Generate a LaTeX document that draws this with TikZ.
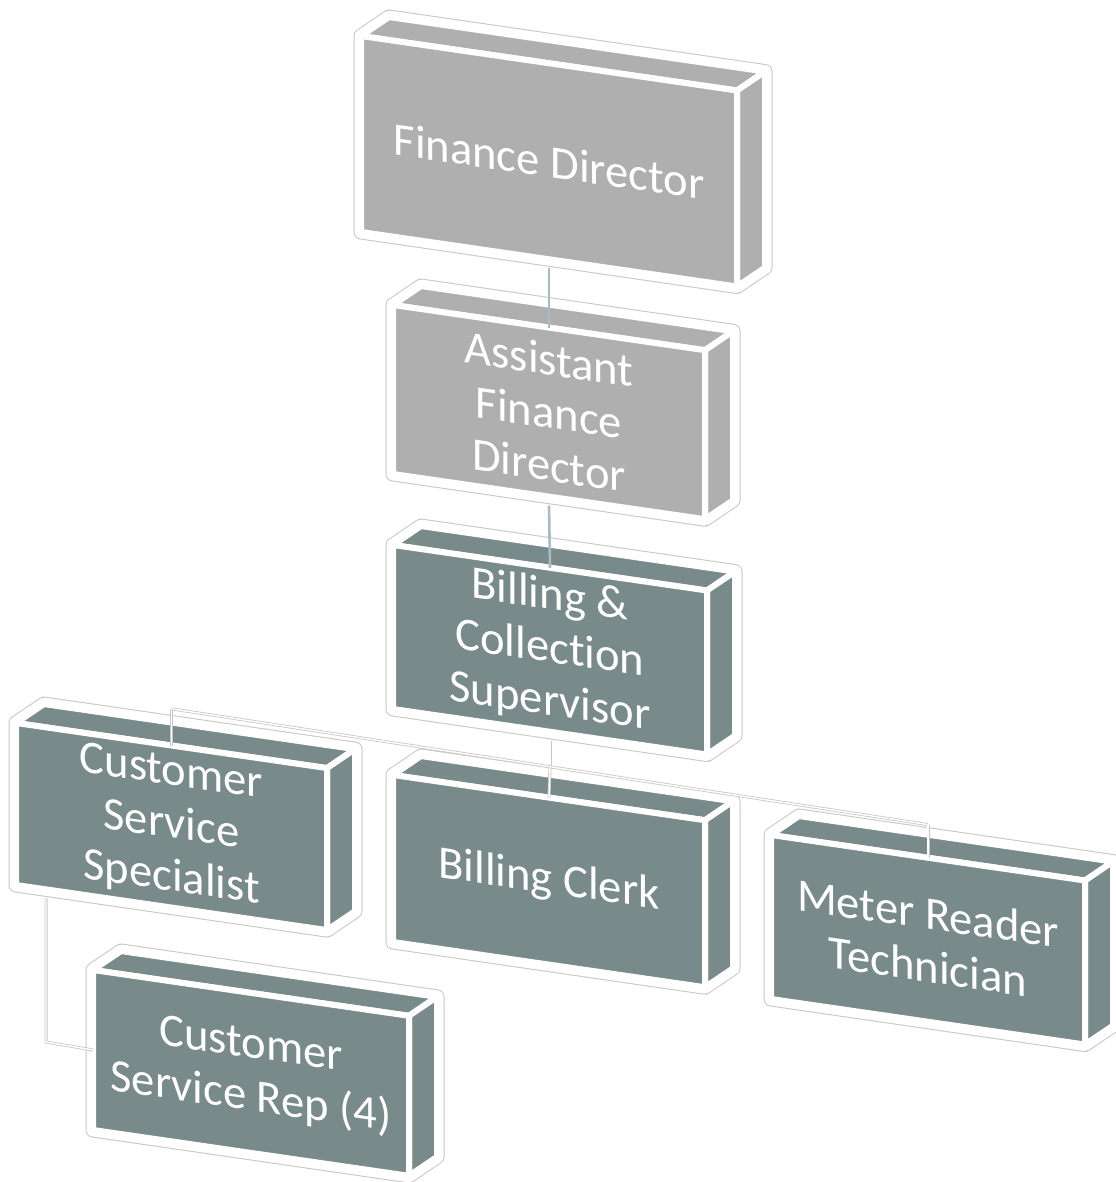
\documentclass[tikz,border=0pt]{standalone}
\usepackage{fontspec}
\setmainfont{Carlito}[Ligatures=NoCommon]
\usepackage{tikz}
\usetikzlibrary{positioning,calc}
\definecolor{boxgray}{HTML}{AFAFAF}
\definecolor{boxslate}{HTML}{798A8A}
\definecolor{linkblue}{HTML}{A3BEC6}
\tikzset{
  org/.style={x=0.5pt,y=0.5pt},
  hull edge/.style={draw=gray!45,line width=7.5pt,line join=round},
  hull band/.style={draw=white,line width=6.5pt,line join=round},
  face/.style={draw=white,line width=3pt,line join=round},
  boxtext/.style={text=white,align=center,inner sep=0pt,
    font=\fontsize{23.3}{26.5}\selectfont},
  link/.style={draw=linkblue,line width=1.3pt},
  sublink/.style={draw=gray!45,line width=0.4pt,double=white,double distance=0.7pt}
}
% name, x, y (front top left, picture px), width, height, colour, text
\newcommand{\orgbox}[7]{%
  \begin{scope}[shift={(#2,1182-#3)},yslant=-0.145]
    \draw[hull edge] (0,0) -- (28,23) -- (#4+28,23) -- (#4+28,23-#5) -- (#4,-#5) -- (0,-#5) -- cycle;
    \draw[hull band] (0,0) -- (28,23) -- (#4+28,23) -- (#4+28,23-#5) -- (#4,-#5) -- (0,-#5) -- cycle;
    \filldraw[face,fill=#6] (0,0) -- (28,23) -- (#4+28,23) -- (#4,0) -- cycle;
    \filldraw[face,fill=#6] (#4,0) -- (#4+28,23) -- (#4+28,23-#5) -- (#4,-#5) -- cycle;
    \filldraw[face,fill=#6] (0,0) rectangle (#4,-#5);
    \node[boxtext,transform shape] (#1) at (#4/2,-#5/2) {#7};
    \coordinate (#1-top) at (#4/2,0);
    \coordinate (#1-bot) at (#4/2,-#5-9);
    \coordinate (#1-west) at (0,-#5/2);
    \coordinate (#1-left) at (30,-#5-9);
  \end{scope}}

\begin{document}
\begin{tikzpicture}[org]
  \useasboundingbox (0,0) rectangle (1115,1182);
  \orgbox{fd}{361}{36}{376}{196}{boxgray}{Finance Director}
  \orgbox{afd}{393}{305}{312}{169}{boxgray}{Assistant\\Finance\\Director}
  \orgbox{bcs}{393}{545}{314}{164}{boxslate}{Billing \&\\Collection\\Supervisor}
  \orgbox{css}{16}{723}{311}{162}{boxslate}{Customer\\Service\\Specialist}
  \orgbox{bc}{393}{775}{312}{167}{boxslate}{Billing Clerk}
  \orgbox{mrt}{771}{835}{314}{164}{boxslate}{Meter Reader\\Technician}
  \orgbox{csr}{93}{970}{316}{160}{boxslate}{Customer\\Service Rep (4)}
  % connectors
  \draw[link] (fd-bot) -- (afd-top);
  \draw[link] (afd-bot) -- (bcs-top);
  \coordinate (bus) at ($(bcs-bot)+(0,-26)$);
  \path let \p1=(bus), \p2=(css-top) in coordinate (bus-l) at (\x2,{\y1+0.153*(\x1-\x2)});
  \path let \p1=(bus), \p2=(mrt-top) in coordinate (bus-r) at (\x2,{\y1-0.153*(\x2-\x1)});
  \draw[sublink] (bcs-bot) -- (bus);
  \draw[sublink] (bus-l) -- (bus-r);
  \draw[sublink] (bus-l) -- (css-top);
  \draw[sublink] (bus) -- (bc-top);
  \draw[sublink] (bus-r) -- (mrt-top);
  \coordinate (csr-bend) at ($(csr-west)+(-47,8)$);
  \draw[sublink] (css-left) -- (csr-bend) -- (csr-west);
\end{tikzpicture}
\end{document}
